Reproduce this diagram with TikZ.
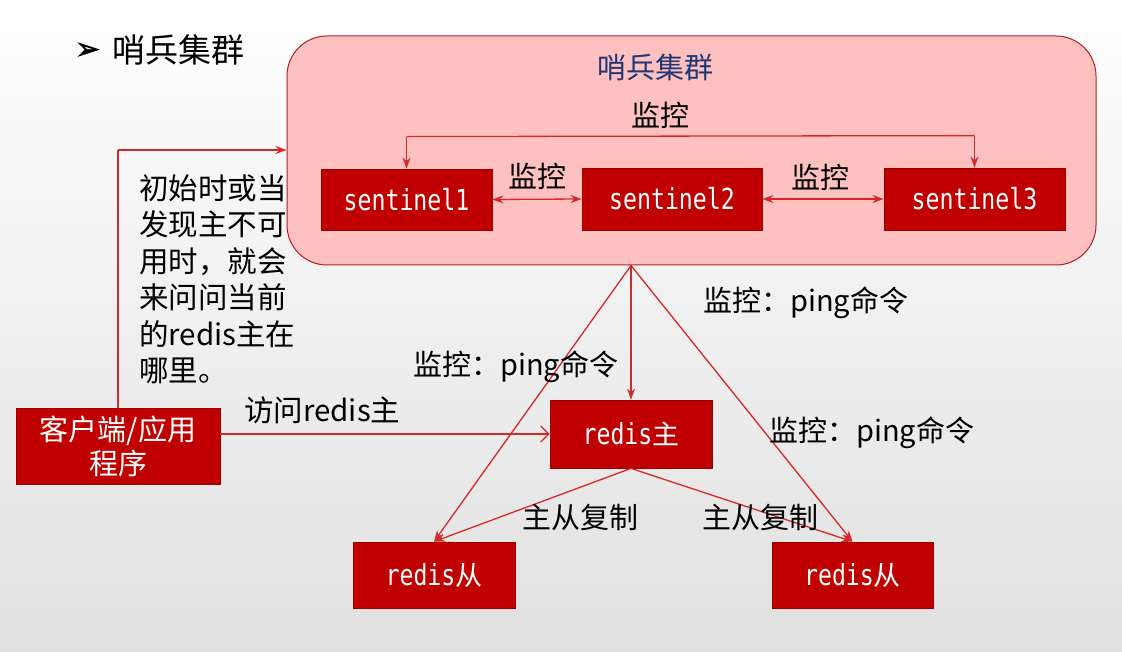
\documentclass[tikz,border=0pt]{standalone}
\usepackage{fontspec}
\setmainfont{Noto Sans CJK SC}
\newfontfamily\cjk{Noto Sans CJK SC}
\newfontfamily\boxfont[FakeStretch=0.8]{DejaVu Sans Mono}
\newfontfamily\symfont[FakeBold=2]{DejaVu Sans}
\usetikzlibrary{arrows.meta,calc}
\definecolor{boxred}{RGB}{192,0,0}
\definecolor{linered}{RGB}{215,40,40}
\definecolor{clfill}{RGB}{255,192,192}
\definecolor{clborder}{RGB}{180,30,40}
\definecolor{navy}{RGB}{32,56,120}
\tikzset{
  redbox/.style={draw=boxred!80!black, fill=boxred, text=white, inner sep=0pt, line width=0.8pt},
  boxtxt/.style={font=\boxfont\fontsize{29}{30}\selectfont},
  lbl/.style={inner sep=0pt, text=black, font=\fontsize{29}{30}\selectfont},
  conn/.style={draw=linered, line width=1.3pt, -{Stealth[length=11pt,width=8pt]}},
  dconn/.style={draw=linered, line width=1.3pt, {Stealth[length=11pt,width=8pt]}-{Stealth[length=11pt,width=8pt]}},
}
\begin{document}
\begin{tikzpicture}[x=1pt,y=-1pt]
\shade[top color=white, bottom color=black!12] (0,0) rectangle (1122,652);
\useasboundingbox (0,0) rectangle (1122,652);

% title
\node[inner sep=0pt, anchor=west] (bullet) at (75,51) {\symfont\fontsize{30}{32}\selectfont ➢};
\node[inner sep=0pt, anchor=west] (title) at (112,50) {\fontsize{33}{36}\selectfont 哨兵集群};

% cluster
\node[draw=clborder, fill=clfill, line width=1pt, rounded corners=40pt, minimum width=809pt, minimum height=229pt, inner sep=0pt] (cluster) at (691.5,150.5) {};
\node[inner sep=0pt, text=navy] (cltitle) at (655,67) {\fontsize{29}{30}\selectfont 哨兵集群};

% sentinels
\node[redbox, boxtxt, minimum width=171pt, minimum height=61pt] (s1) at (406.5,199.5) {sentinel1};
\node[redbox, boxtxt, minimum width=180pt, minimum height=62pt] (s2) at (672,199) {sentinel2};
\node[redbox, boxtxt, minimum width=181pt, minimum height=62pt] (s3) at (974.5,199) {sentinel3};

\node[lbl] (m13) at (660,115) {监控};
\node[lbl] (m12) at (537,176) {监控};
\node[lbl] (m23) at (820,177) {监控};

\coordinate (t1) at ($(s1.north)+(0,-32)$);
\coordinate (t3) at ($(s3.north)+(0,-32)$);
\draw[conn, -] (t1) -- (t3);
\draw[conn] (t1) -- (s1.north);
\draw[conn] (t3) -- (s3.north);
\draw[dconn] (s1.east) -- (s2.west);
\draw[dconn] (s2.east) -- (s3.west);

% redis nodes
\node[redbox, boxtxt, minimum width=162pt, minimum height=68pt] (master) at (631,434) {redis{\cjk\fontsize{27}{30}\selectfont 主}};
\node[redbox, boxtxt, minimum width=162pt, minimum height=66pt] (ls) at (434,575) {redis{\cjk\fontsize{27}{30}\selectfont 从}};
\node[redbox, boxtxt, minimum width=161pt, minimum height=66pt] (rs) at (852.5,575) {redis{\cjk\fontsize{27}{30}\selectfont 从}};

\coordinate (cb) at (master.north |- cluster.south);
\draw[conn] (cb) -- (master.north);
\draw[conn] (cb) -- (ls.north);
\draw[conn] (cb) -- (rs.north);
\draw[conn] (master.south) -- (ls.north);
\draw[conn] (master.south) -- (rs.north);

\node[lbl, anchor=west] (p1) at (703,303) {监控：ping命令};
\node[lbl, anchor=west] (p2) at (413,367) {监控：ping命令};
\node[lbl, anchor=west] (p3) at (769,433) {监控：ping命令};
\node[lbl] (r1) at (580,517) {主从复制};
\node[lbl] (r2) at (760,517) {主从复制};

% client
\node[redbox, minimum width=204pt, minimum height=76pt, align=center, font=\fontsize{29}{34}\selectfont] (client) at (118,446) {客户端/应用\\程序};
\coordinate (c1) at (client.north |- 0,150);
\draw[conn, -] (client.north) -- (c1);
\draw[conn] (c1) -- (c1 -| cluster.west);
\draw[draw=linered, line width=1.3pt, -{Straight Barb[length=8pt,width=16pt,line width=1.3pt]}] (client.east |- master.west) -- (master.west);
\node[lbl, anchor=west, font=\fontsize{29.5}{30}\selectfont] (acc) at (244,410) {访问redis主};

\node[inner sep=0pt, anchor=north west, align=left, font=\fontsize{29.5}{36.5}\selectfont] (note) at (139,174) {初始时或当\\发现主不可\\用时，就会\\来问问当前\\的redis主在\\哪里。};
\end{tikzpicture}
\end{document}
